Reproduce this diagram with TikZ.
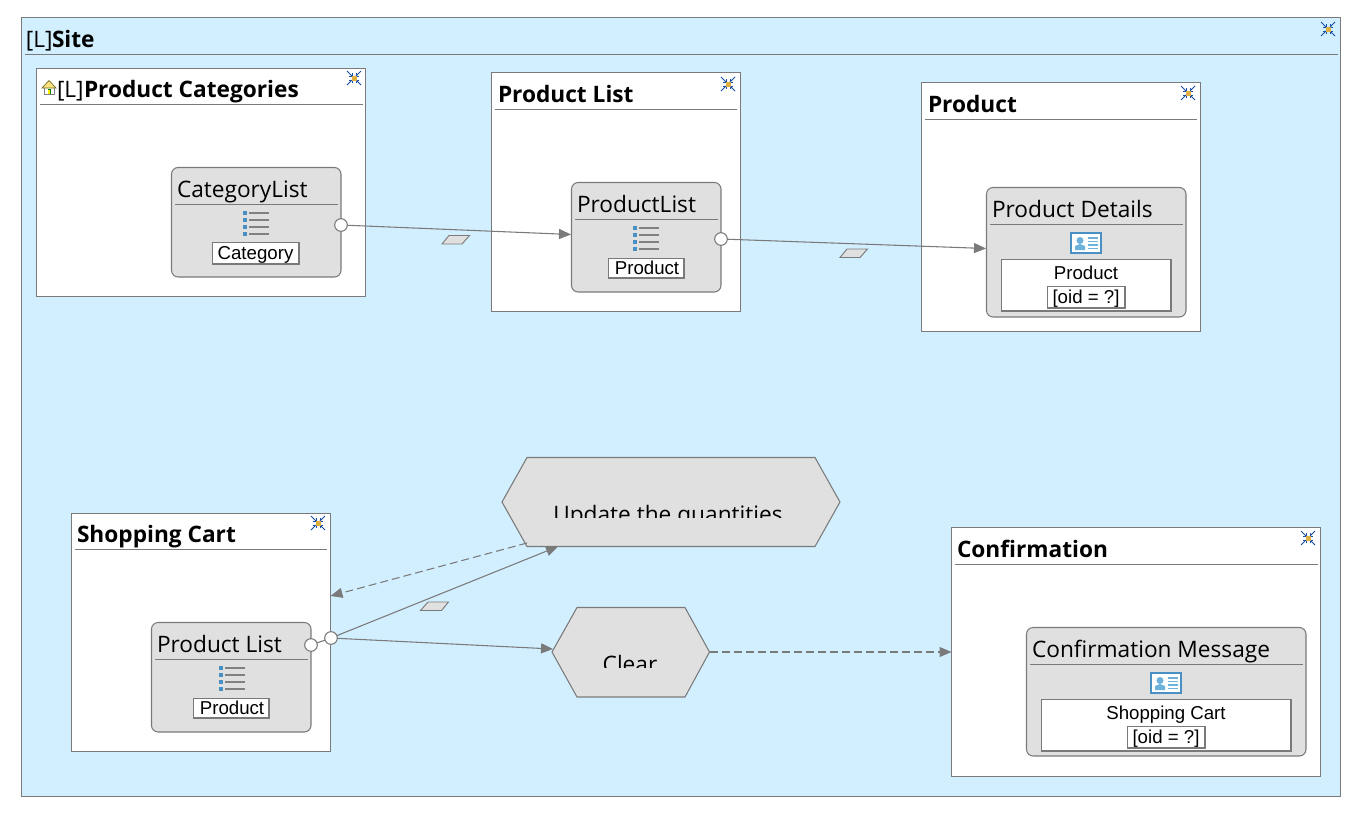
\documentclass[tikz,border=0pt]{standalone}
\usepackage{fontspec}
\setmainfont{Liberation Sans}
\newfontfamily\ttlfont{Open Sans}
\usetikzlibrary{arrows.meta}
\definecolor{siteblue}{HTML}{D2EFFF}
\definecolor{edgegray}{HTML}{7A7A7A}
\definecolor{unitgray}{HTML}{E0E0E0}
\definecolor{iconblue}{HTML}{4A90C4}
\definecolor{iconlight}{HTML}{6DB2DA}
\definecolor{pinblue}{HTML}{1A4FA8}
\definecolor{pingold}{HTML}{E0B040}
\tikzset{
  px/.style={inner sep=0pt,outer sep=0pt},
  sitebox/.style={px,draw=edgegray,line width=.8pt,fill=siteblue},
  pagebox/.style={px,draw=edgegray,line width=.8pt,fill=white},
  unitbox/.style={px,draw=edgegray,line width=.8pt,fill=unitgray,rounded corners=5pt},
  whitebox/.style={px,draw=edgegray,line width=.8pt,fill=white},
  divider/.style={draw=edgegray,line width=.8pt},
  bigtitle/.style={px,anchor=base west,font=\ttlfont\fontsize{17}{20}\selectfont\bfseries},
  lighttitle/.style={px,anchor=base west,font=\ttlfont\fontsize{17}{20}\selectfont},
  unittitle/.style={px,anchor=base west,font=\ttlfont\fontsize{17}{20}\selectfont},
  small/.style={px,anchor=base,font=\fontsize{14}{16}\selectfont},
  port/.style={circle,draw=edgegray,line width=.8pt,fill=white,minimum size=9.5pt,inner sep=0pt,outer sep=0pt},
  hexshape/.style={draw=edgegray,line width=.8pt,fill=unitgray},
  link/.style={draw=edgegray,line width=.8pt,-{Triangle[length=9pt,width=7.5pt,fill=edgegray]}},
  oklink/.style={link,dash pattern=on 6pt off 3pt},
  flag/.style={draw=edgegray,line width=.7pt,fill=unitgray},
}
\newcommand{\pxbox}[7]{%
  \pgfmathsetmacro\bw{(#5-#3)*0.75}\pgfmathsetmacro\bh{(#6-#4)*0.75}%
  \node[#1,minimum width=\bw pt,minimum height=\bh pt] (#2) at ({(#3+#5)/2},{(#4+#6)/2}) {#7};}
\newcommand{\pinicon}[1]{\begin{scope}[shift={(#1)}]
  \foreach \sx/\sy in {1/1,1/-1,-1/1,-1/-1}{
    \draw[pinblue,line width=.7pt] (\sx*7,\sy*7)--(\sx*2,\sy*2);
    \draw[pinblue,line width=.7pt] (\sx*2,\sy*5)--(\sx*2,\sy*2)--(\sx*5,\sy*2);}
  \fill[pingold] (-2.5,-2.5) rectangle (2.5,2.5);
\end{scope}}
\newcommand{\listicon}[1]{\begin{scope}[shift={(#1)}]
  \foreach \r in {0,7,14,21}{
    \fill[iconblue] (-13,\r-2) rectangle (-9,\r+2);
    \draw[gray,line width=.9pt] (-7,\r)--(13,\r);}
\end{scope}}
\newcommand{\detailicon}[1]{\begin{scope}[shift={(#1)}]
  \draw[iconblue,line width=.8pt,fill=white] (-15,-10) rectangle (15,10);
  \fill[iconlight] (-11,7)--(-11,3)--(-6,1)--(-1,3)--(-1,7)--cycle;
  \fill[iconlight] (-6,-2.5) circle (3.5);
  \foreach \r in {-5,-1.5,2,5.5}{\draw[iconlight,line width=.8pt] (2,\r)--(12,\r);}
\end{scope}}
\begin{document}
\begin{tikzpicture}[x=0.75pt,y=-0.75pt]
\useasboundingbox (0,0) rectangle (1365,822);
\fill[white] (0,0) rectangle (1365,822);

% Site
\pxbox{sitebox}{site}{21.5}{17.5}{1340.5}{796.5}{}
\draw[divider] (25,54.5)--(1338,54.5);
\node[lighttitle] (siteL) at (26,47) {[L]};
\node[bigtitle] (siteT) at (52,47) {Site};
\pinicon{1328,29}

% Product Categories
\pxbox{pagebox}{pc}{36.5}{68.5}{365.5}{296.5}{}
\draw[divider] (40,104.5)--(363,104.5);
\begin{scope}[shift={(49,87)}]
  \fill[white] (-5,0) rectangle (5,7);
  \draw[gray,line width=.5pt] (-5,0)--(-5,7)--(5,7)--(5,0);
  \draw[olive!70!black,fill=yellow!60!orange!50,line width=.5pt] (-7,1)--(0,-6.5)--(7,1)--cycle;
  \fill[green!50!black] (-1.5,2) rectangle (1.5,7);
  \fill[yellow] (-.8,3) rectangle (.8,7);
\end{scope}
\node[lighttitle] (pcL) at (57,97) {[L]};
\node[bigtitle] (pcT) at (84,97) {Product Categories};
\pinicon{354,78}

\pxbox{unitbox}{catlist}{171.5}{167.5}{341}{277}{}
\draw[divider] (175,204.5)--(338,204.5);
\node[unittitle] (catT) at (177,197) {CategoryList};
\listicon{256,213}
\pxbox{whitebox}{catlab}{212.5}{242.5}{299}{264}{}
\node[small] (catTxt) at (255.5,259) {Category};
\node[port] (p1) at (341,225) {};

% Product List
\pxbox{pagebox}{pl}{491.5}{72.5}{740.5}{311.5}{}
\draw[divider] (495,109.5)--(737,109.5);
\node[bigtitle] (plT) at (498,102) {Product List};
\pinicon{728,84}

\pxbox{unitbox}{prodlist}{571.5}{182.5}{721}{292}{}
\draw[divider] (575,219.5)--(718,219.5);
\node[unittitle] (prodT) at (577,212) {ProductList};
\listicon{646,228}
\pxbox{whitebox}{prodlab}{608.5}{258.5}{684}{278}{}
\node[small] (prodTxt) at (647,274) {Product};
\node[port] (p2) at (721,239) {};

% Product
\pxbox{pagebox}{pr}{921.5}{82.5}{1200.5}{331.5}{}
\draw[divider] (925,119.5)--(1197,119.5);
\node[bigtitle] (prT) at (928,112) {Product};
\pinicon{1188,93}

\pxbox{unitbox}{details}{986.5}{187.5}{1186}{317}{}
\draw[divider] (990,224.5)--(1183,224.5);
\node[unittitle] (detT) at (992,217) {Product Details};
\detailicon{1086,243}
\pxbox{whitebox}{detbox}{1001.5}{259.5}{1171}{311}{}
\node[small] (detTxt) at (1086,279) {Product};
\pxbox{whitebox}{detoid}{1047.5}{286.5}{1125}{308}{}
\node[small] (detOid) at (1086,303) {[oid = ?]};

% Shopping Cart
\pxbox{pagebox}{sc}{71.5}{513.5}{330.5}{751.5}{}
\draw[divider] (75,549.5)--(327,549.5);
\node[bigtitle] (scT) at (77,542) {Shopping Cart};
\pinicon{318,523}

\pxbox{unitbox}{cartlist}{151.5}{622.5}{311}{732}{}
\draw[divider] (155,659.5)--(308,659.5);
\node[unittitle] (cartT) at (157,652) {Product List};
\listicon{232,668}
\pxbox{whitebox}{cartlab}{193.5}{698.5}{269}{718}{}
\node[small] (cartTxt) at (232,714) {Product};
\node[port] (p3) at (311,645) {};
\node[port] (p4) at (331,638) {};

% Confirmation
\pxbox{pagebox}{cf}{951.5}{527.5}{1320.5}{776.5}{}
\draw[divider] (955,564.5)--(1318,564.5);
\node[bigtitle] (cfT) at (957,557) {Confirmation};
\pinicon{1308,538}

\pxbox{unitbox}{message}{1026.5}{627.5}{1306}{756}{}
\draw[divider] (1030,664.5)--(1303,664.5);
\node[unittitle] (msgT) at (1032,657) {Confirmation Message};
\detailicon{1166,683}
\pxbox{whitebox}{msgbox}{1041.5}{699.5}{1291}{751}{}
\node[small] (msgTxt) at (1166,719) {Shopping Cart};
\pxbox{whitebox}{msgoid}{1127.5}{726.5}{1205}{748}{}
\node[small] (msgOid) at (1166,743) {[oid = ?]};

% Operations
\draw[hexshape] (502,502)--(527,457.5)--(815,457.5)--(840,502)--(815,546.5)--(527,546.5)--cycle;
\begin{scope}
  \clip (510,460) rectangle (830,517);
  \node[unittitle,anchor=base] (updT) at (668,522) {Update the quantities};
\end{scope}
\pxbox{px}{upd}{502}{457.5}{840}{546.5}{}
\draw[hexshape] (552,652)--(577,607.5)--(685,607.5)--(709.5,652)--(685,697)--(577,697)--cycle;
\begin{scope}
  \clip (560,610) rectangle (700,667);
  \node[unittitle,anchor=base] (clrT) at (630,672) {Clear};
\end{scope}
\pxbox{px}{clr}{552}{607.5}{709.5}{697}{}

% Connector ends
\coordinate (plIn) at (571,234.5);
\coordinate (detIn) at (986,248.5);
\coordinate (updIn) at (558,546.5);
\coordinate (updOut) at (527,543);
\coordinate (scIn) at (330.5,596);
\coordinate (clrIn) at (553,649);
\coordinate (clrOut) at (709.5,652);
\coordinate (cfIn) at (951.5,652);

% Connectors
\draw[link] (p1) -- (plIn);
\draw[link] (p2) -- (detIn);
\draw[divider] (p3) -- (p4);
\draw[link] (p4) -- (updIn);
\draw[link] (p4) -- (clrIn);
\draw[oklink] (updOut) -- (scIn);
\draw[oklink] (clrOut) -- (cfIn);

% Link flags
\draw[flag] (442,244)--(449,235.5)--(469.5,235.5)--(462,244)--cycle;
\draw[flag] (840,257.5)--(847,249)--(867.5,249)--(860,257.5)--cycle;
\draw[flag] (420.5,610.5)--(428,602)--(448.5,602)--(441.5,610.5)--cycle;
\end{tikzpicture}
\end{document}
